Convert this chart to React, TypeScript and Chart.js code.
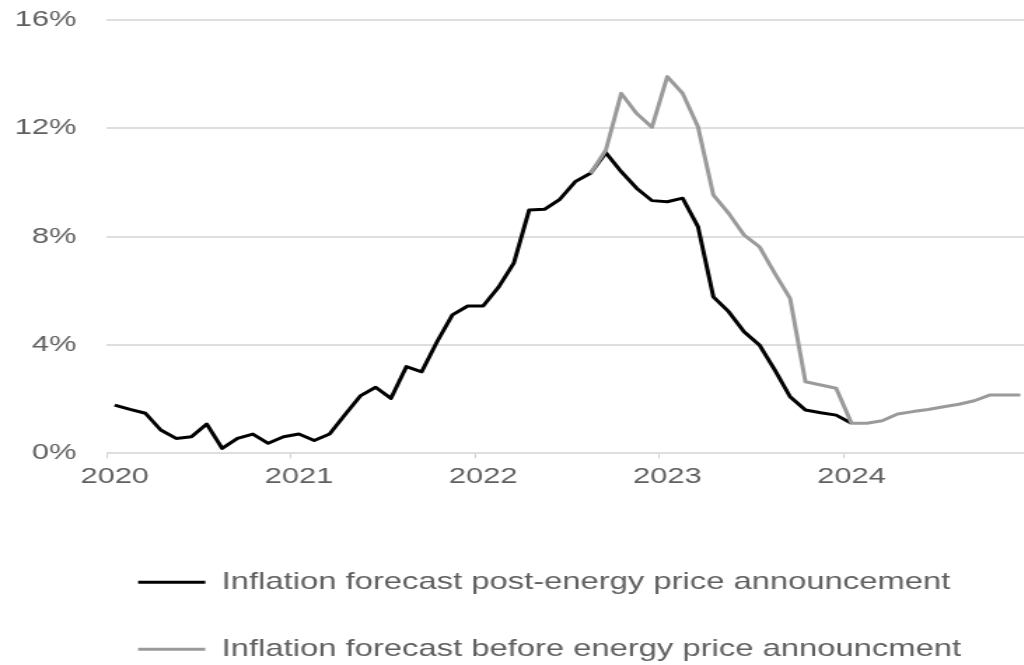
import React, { useEffect, useRef } from 'react';
import { Chart, registerables } from 'chart.js';

Chart.register(...registerables);

// Monthly categories, Jan 2020 to Dec 2024
const YEARS = ['2020', '2021', '2022', '2023', '2024'];
const MONTHS = ['Jan', 'Feb', 'Mar', 'Apr', 'May', 'Jun', 'Jul', 'Aug', 'Sep', 'Oct', 'Nov', 'Dec'];
const CATEGORIES = YEARS.flatMap((y) => MONTHS.map((m) => `${m} ${y}`));

// Y axis ticks (percent)
const Y_MIN = 0;
const Y_MAX = 16;
const Y_STEP = 4;

// Inflation forecast after the energy price announcement (%)
const POST_ANNOUNCEMENT = [
  1.78, 1.62, 1.48, 0.86, 0.55, 0.61, 1.08, 0.18, 0.55, 0.71, 0.37, 0.61,
  0.71, 0.47, 0.71, 1.42, 2.12, 2.44, 2.03, 3.2, 3.01, 4.12, 5.11, 5.44,
  5.44, 6.13, 7.02, 8.98, 9.01, 9.38, 10.03, 10.34, 11.1, 10.4, 9.79, 9.33,
  9.29, 9.42, 8.37, 5.78, 5.23, 4.49, 4.0, 3.08, 2.09, 1.6, 1.5, 1.41,
  1.11, null, null, null, null, null, null, null, null, null, null, null,
];

// Inflation forecast before the energy price announcement (%)
const BEFORE_ANNOUNCEMENT = [
  null, null, null, null, null, null, null, null, null, null, null, null,
  null, null, null, null, null, null, null, null, null, null, null, null,
  null, null, null, null, null, null, null, 10.34, 11.2, 13.29, 12.55, 12.04,
  13.91, 13.29, 12.06, 9.54, 8.86, 8.06, 7.63, 6.65, 5.72, 2.64, 2.52, 2.4,
  1.11, 1.11, 1.2, 1.45, 1.54, 1.62, 1.72, 1.81, 1.94, 2.15, 2.15, 2.15,
];

const SERIES_NAMES = [
  'Inflation forecast post-energy price announcement',
  'Inflation forecast before energy price announcment',
];

const TEXT_COLOR = '#606060';
const GRID_COLOR = '#dedede';
const FONT_FAMILY = '"Liberation Sans", Arial, sans-serif';

// The drawing surface is rendered narrow and shown wider, giving the wide lettering.
const CANVAS_W = 734;
const CANVAS_H = 665;
const STRETCH = 1.4;

// Indents the legend rows so they start under the plot rather than at the canvas edge.
const legendIndent = {
  id: 'legendIndent',
  afterLayout(chart: any) {
    if (chart.legend) {
      chart.legend.left += 55;
    }
  },
};

export default function App() {
  const canvasRef = useRef<HTMLCanvasElement | null>(null);

  useEffect(() => {
    const canvas = canvasRef.current;
    if (!canvas) return;

    const chart = new Chart(canvas, {
      type: 'line',
      data: {
        labels: CATEGORIES,
        datasets: [
          {
            label: SERIES_NAMES[0],
            data: POST_ANNOUNCEMENT,
            borderColor: '#000000',
            backgroundColor: '#000000',
            borderWidth: 3,
            pointRadius: 0,
            tension: 0,
            borderJoinStyle: 'round',
            spanGaps: false,
            order: 1,
          },
          {
            label: SERIES_NAMES[1],
            data: BEFORE_ANNOUNCEMENT,
            borderColor: '#9a9a9a',
            backgroundColor: '#9a9a9a',
            borderWidth: 3,
            pointRadius: 0,
            tension: 0,
            borderJoinStyle: 'round',
            spanGaps: false,
            order: 0,
          },
        ],
      },
      options: {
        responsive: false,
        animation: false,
        devicePixelRatio: 1,
        layout: { padding: { top: 20, left: 0, right: 0, bottom: -6 } },
        scales: {
          x: {
            type: 'category',
            offset: true,
            border: { display: false },
            grid: {
              offset: true,
              drawOnChartArea: false,
              drawTicks: true,
              tickLength: 5,
              lineWidth: 1,
              color: (ctx: any) =>
                typeof ctx.index === 'number' && ctx.index % 12 === 0 ? '#cfcfcf' : 'rgba(0,0,0,0)',
            },
            ticks: {
              autoSkip: false,
              maxRotation: 0,
              minRotation: 0,
              padding: 5,
              color: TEXT_COLOR,
              font: { family: FONT_FAMILY, size: 22 },
              callback: (_v: any, index: number) => (index % 12 === 0 ? YEARS[index / 12] : ''),
            },
            afterFit: (scale: any) => {
              scale.height = 73.7;
            },
          },
          y: {
            min: Y_MIN,
            max: Y_MAX,
            border: { display: false },
            grid: {
              color: GRID_COLOR,
              lineWidth: 2,
              drawTicks: true,
              tickLength: 21.9,
              tickColor: 'rgba(0,0,0,0)',
            },
            ticks: {
              stepSize: Y_STEP,
              padding: 0,
              color: TEXT_COLOR,
              font: { family: FONT_FAMILY, size: 22 },
              callback: (v: any) => `${v}%`,
            },
            afterFit: (scale: any) => {
              scale.width = 76.4;
            },
          },
        },
        plugins: {
          tooltip: { enabled: false },
          title: { display: false },
          legend: {
            display: true,
            position: 'bottom',
            align: 'start',
            labels: {
              boxWidth: 48,
              boxHeight: 3,
              padding: 43.6,
              color: TEXT_COLOR,
              font: { family: FONT_FAMILY, size: 23.4 },
              sort: (a: any, b: any) => a.datasetIndex - b.datasetIndex,
              generateLabels: (c: any) =>
                Chart.defaults.plugins.legend.labels
                  .generateLabels(c)
                  .map((item: any) => ({ ...item, fillStyle: item.strokeStyle, lineWidth: 0 })),
            },
          },
        },
      },
      plugins: [legendIndent],
    });

    return () => chart.destroy();
  }, []);

  return (
    <div
      style={{
        position: 'fixed',
        left: 0,
        top: 0,
        width: 1024,
        height: CANVAS_H,
        overflow: 'hidden',
        background: '#ffffff',
      }}
    >
      <canvas
        ref={canvasRef}
        width={CANVAS_W}
        height={CANVAS_H}
        style={{ display: 'block', width: `${CANVAS_W * STRETCH}px`, height: `${CANVAS_H}px` }}
      />
    </div>
  );
}
